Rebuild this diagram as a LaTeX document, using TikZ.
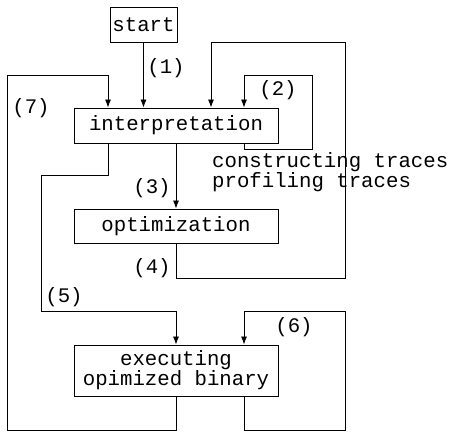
\documentclass[tikz,border=0pt]{standalone}
\usepackage{fontspec}
\setmainfont{Liberation Mono}
\usetikzlibrary{arrows.meta}
\begin{document}
\begin{tikzpicture}[x=1pt,y=-1pt,
  every node/.style={font=\fontsize{20.7}{20}\selectfont},
  box/.style={draw,line width=0.9pt,inner sep=0pt,align=center},
  conn/.style={line width=0.8pt},
  arr/.style={conn,-{Latex[length=8pt,width=6pt]}},
  lbl/.style={inner sep=0pt}]
\useasboundingbox (0,0) rectangle (452,431);
% nodes
\node[box,minimum width=67pt,minimum height=35pt] (start) at (143.5,24.5) {start};
\node[box,minimum width=204pt,minimum height=35pt] (interp) at (176,125.5) {interpretation};
\node[box,minimum width=204pt,minimum height=34pt] (opt) at (176,226) {optimization};
\node[box,minimum width=204pt,minimum height=51pt] (exec) at (176,370.5) {executing\\opimized binary};
% waypoints
\coordinate (a7) at (108,75);
\coordinate (b2) at (244,75);
\coordinate (c4) at (211,42);
\coordinate (b6) at (244,311);
% connectors
\draw[arr] (start.south) -- (start.south |- interp.north);
\draw[arr] (exec.south) |- (7,430) |- (a7) -- (a7 |- interp.north);
\draw[arr] (b2 |- interp.south) |- (312,149) |- (b2) -- (b2 |- interp.north);
\draw[arr] (interp.south) -- (opt.north);
\draw[arr] (opt.south) |- (345,278) |- (c4) -- (c4 |- interp.north);
\draw[arr] (a7 |- interp.south) |- (41,175) |- (176,311) -- (exec.north);
\draw[arr] (b6 |- exec.south) |- (345,430) |- (b6) -- (b6 |- exec.north);
% labels
\node[lbl] (l1) at (166,68) {(1)};
\node[lbl] (l2) at (278,90) {(2)};
\node[lbl] (l7) at (31,108) {(7)};
\node[lbl] (l3) at (152,188) {(3)};
\node[lbl] (l4) at (152,268) {(4)};
\node[lbl] (l5) at (64,297) {(5)};
\node[lbl] (l6) at (294,327) {(6)};
\node[lbl,anchor=west,align=left] (tr) at (212,172) {constructing traces\\profiling traces};
\end{tikzpicture}
\end{document}
